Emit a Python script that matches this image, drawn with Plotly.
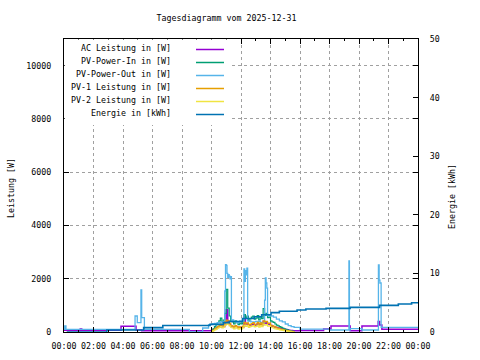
import pandas as pd
import plotly.graph_objects as go

TITLE = "Tagesdiagramm vom 2025-12-31"
DAY = "2025-12-31"
Y1_TITLE = "Leistung [W]"
Y2_TITLE = "Energie [kWh]"

NAMES = ["AC Leistung in [W]", "PV-Power-In in [W]", "PV-Power-Out in [W]",
         "PV-1 Leistung in [W]", "PV-2 Leistung in [W]", "Energie in [kWh]"]
COLORS = ["#9400d3", "#009e73", "#56b4e9", "#e69f00", "#f0e442", "#0072b2"]

# daytime sample times (minutes after midnight)
DAY_MIN = [600, 606, 612, 618, 624, 630, 636, 642, 648, 654, 660, 666, 672, 678, 684,
           690, 696, 702, 708, 714, 720, 726, 732, 738, 744, 750, 756, 762, 768, 774,
           780, 786, 792, 798, 804, 810, 816, 822, 828, 834, 840, 846, 852, 858, 864,
           870, 876, 882, 888, 894, 900, 906, 912, 918, 924, 930, 936]

AC_MIN = [0, 66, 72, 232, 293, 316] + DAY_MIN + [960, 1056, 1086, 1164, 1212, 1278, 1284, 1293, 1440]
AC_W = [70, 110, 70, 215, 75, 50,
        70, 90, 120, 150, 180, 200, 240, 190, 210, 300,
        840, 400, 280, 220, 200, 170, 210, 180, 150, 170,
        160, 190, 600, 300, 320, 230, 260, 280, 300, 250,
        270, 310, 240, 290, 260, 400, 330, 350, 290, 300,
        240, 220, 200, 180, 160, 150, 130, 120, 110, 100,
        90, 80, 70, 60, 55, 50, 50,
        55, 110, 225, 50, 225, 390, 260, 100, 100]

PV_IN_W = [60, 120, 200, 280, 350, 420, 520, 380, 450, 700,
           1600, 900, 600, 420, 380, 300, 420, 350, 280, 330,
           300, 380, 650, 520, 600, 420, 500, 560, 600, 480,
           520, 620, 450, 580, 500, 880, 620, 700, 540, 560,
           420, 380, 360, 300, 260, 230, 200, 170, 150, 120,
           100, 80, 60, 40, 30, 20, 0]

PV_OUT_MIN = [0, 3, 8, 289, 298, 313, 316, 320, 327, 510,
              564, 588, 600, 612, 624, 636, 648, 654, 657, 660,
              663, 666, 669, 672, 675, 678, 681, 690, 702, 714,
              726, 732, 735, 738, 741, 744, 747, 760, 780, 800,
              816, 819, 822, 825, 828, 840, 852, 864, 876, 888,
              900, 912, 924, 936, 960, 1080, 1159, 1161, 1164, 1212,
              1279, 1282, 1285, 1290, 1440]
PV_OUT_W = [100, 225, 100, 600, 350, 1580, 540, 540, 100, 0,
            150, 275, 300, 320, 350, 380, 400, 1540, 2530, 2500,
            2200, 2050, 2150, 2100, 2000, 2080, 450, 400, 350, 420,
            380, 2370, 1900, 2300, 2150, 2400, 420, 380, 400, 350,
            1200, 2030, 1840, 1650, 620, 600, 560, 480, 420, 380,
            300, 240, 200, 170, 110, 75, 2670, 75, 125, 75,
            2520, 1950, 1840, 175, 175]

PV1_W = [30, 70, 120, 160, 200, 240, 300, 220, 260, 380,
         450, 420, 330, 240, 220, 180, 240, 200, 160, 190,
         170, 220, 360, 300, 340, 250, 290, 320, 350, 280,
         300, 360, 260, 340, 290, 420, 380, 400, 320, 330,
         250, 230, 210, 180, 160, 140, 120, 100, 90, 75,
         60, 50, 40, 25, 20, 10, 0]

PV2_W = [20, 50, 80, 110, 140, 170, 200, 150, 180, 260,
         330, 290, 230, 170, 150, 120, 170, 140, 110, 130,
         120, 150, 250, 210, 240, 170, 200, 220, 240, 190,
         210, 250, 180, 240, 200, 300, 260, 280, 220, 230,
         170, 160, 140, 120, 110, 95, 80, 70, 60, 50,
         40, 35, 25, 20, 10, 5, 0]

EN_MIN = [11, 174, 324, 402, 594, 648, 672, 726, 774, 804, 842, 876, 948, 984,
          1066, 1164, 1284, 1360, 1414, 1440]
EN_KWH = [0.0, 0.35, 0.75, 1.1, 1.3, 1.6, 1.8, 2.3, 2.6, 2.95, 3.3, 3.55, 3.75, 3.92,
          4.04, 4.2, 4.55, 4.78, 5.0, 5.0]

FONT = "DejaVu Sans Mono"
FS = 8.3
GRID = "#a0a0a0"

base = pd.Timestamp(DAY)


def tx(mins):
    return base + pd.to_timedelta(mins, unit="m")


fig = go.Figure()
series = [
    (AC_MIN, AC_W, "y", 1.5),
    (DAY_MIN, PV_IN_W, "y", 1.2),
    (PV_OUT_MIN, PV_OUT_W, "y", 1.3),
    (DAY_MIN, PV1_W, "y", 1.2),
    (DAY_MIN, PV2_W, "y", 1.2),
    (EN_MIN, EN_KWH, "y2", 1.6),
]
for (m, v, ax, w), name, col in zip(series, NAMES, COLORS):
    fig.add_trace(go.Scatter(x=tx(m), y=v, name=name, mode="lines", yaxis=ax,
                             line=dict(color=col, width=w, shape="hv"),
                             showlegend=False))

W, H = 480, 360
L, R, T, B = 64, 62, 39, 28
pw, ph = W - L - R, H - T - B


def px(x):
    return (x - L) / pw


def py(y):
    return (H - B - y) / ph


# opaque legend box (hides the grid behind the key)
shapes = [dict(type="rect", xref="paper", yref="paper", x0=0.002, x1=px(229), y0=py(125), y1=0.998,
               fillcolor="white", line=dict(width=0), layer="above")]
annotations = []
row_y = [48, 61, 74, 87, 100, 113]
for name, col, ry in zip(NAMES, COLORS, row_y):
    annotations.append(dict(text=name, xref="paper", yref="paper", x=px(173), y=py(ry),
                            xanchor="right", yanchor="middle", showarrow=False,
                            font=dict(family=FONT, size=FS, color="black")))
    shapes.append(dict(type="line", xref="paper", yref="paper", x0=px(196), x1=px(224),
                       y0=py(ry + 1.5), y1=py(ry + 1.5), layer="above",
                       line=dict(color=col, width=1.5)))

annotations.append(dict(text=Y1_TITLE, xref="paper", yref="paper", x=px(11), y=py(188),
                        xanchor="center", yanchor="middle", textangle=-90, showarrow=False,
                        font=dict(family=FONT, size=FS, color="black")))
annotations.append(dict(text=Y2_TITLE, xref="paper", yref="paper", x=px(452), y=py(196),
                        xanchor="center", yanchor="middle", textangle=-90, showarrow=False,
                        font=dict(family=FONT, size=FS, color="black")))

axis_common = dict(showline=True, linecolor="black", linewidth=1, ticks="inside",
                   ticklen=5, tickcolor="black", tickfont=dict(family=FONT, size=FS, color="black"),
                   zeroline=False)

fig.update_layout(
    width=W, height=H, margin=dict(l=L, r=R, t=T, b=B, autoexpand=False),
    paper_bgcolor="white", plot_bgcolor="white",
    title=dict(text=TITLE, x=226.5 / W, xanchor="center", xref="container",
               y=1 - 18 / H, yanchor="middle", font=dict(family=FONT, size=FS, color="black")),
    xaxis=dict(type="date", range=[tx(0), tx(1440)], dtick=7200000, tick0=tx(0),
               tickformat="%H:%M", mirror="ticks", showgrid=True, gridcolor=GRID,
               griddash="3px,3px", gridwidth=1, ticklabelstandoff=6,
               minor=dict(ticks="inside", ticklen=2, dtick=3600000, tickcolor="black", showgrid=False),
               **axis_common),
    yaxis=dict(range=[0, 11000], dtick=2000, tick0=0, tickformat="d", mirror="ticks",
               showgrid=True, gridcolor=GRID, griddash="3px,3px", gridwidth=1,
               ticklabelstandoff=10, **axis_common),
    yaxis2=dict(overlaying="y", side="right", range=[0, 50], dtick=10, tick0=0,
                showgrid=False, ticklabelstandoff=9, **axis_common),
    shapes=shapes, annotations=annotations,
)

fig.write_html("out.html", config={"displayModeBar": False},
               post_script="document.body.style.margin='0';document.body.style.padding='0';")
